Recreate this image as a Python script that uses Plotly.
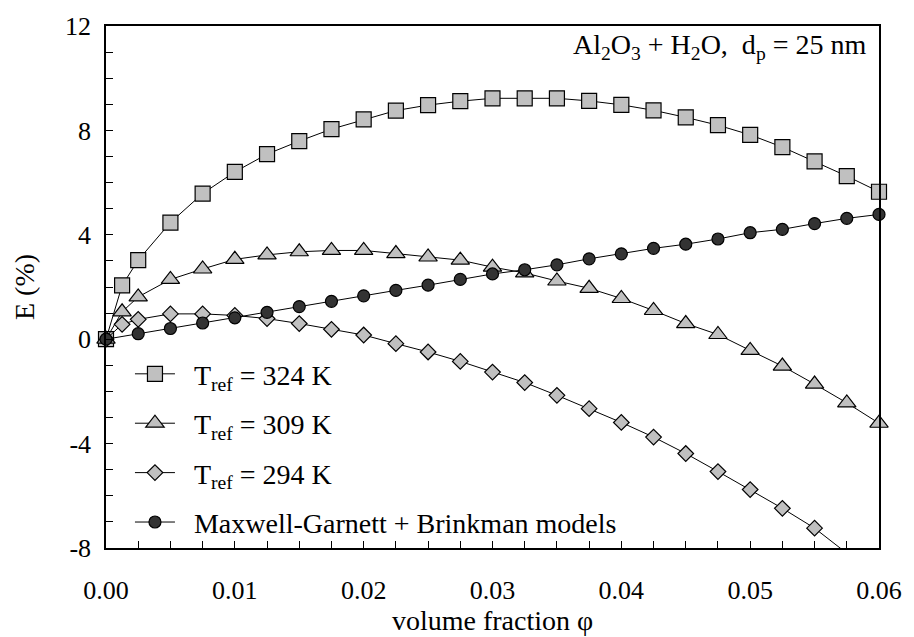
import plotly.graph_objects as go

# volume fraction values
phi_exp = [0, 0.00125, 0.0025, 0.005, 0.0075, 0.01, 0.0125, 0.015, 0.0175, 0.02,
           0.0225, 0.025, 0.0275, 0.03, 0.0325, 0.035, 0.0375, 0.04, 0.0425, 0.045,
           0.0475, 0.05, 0.0525, 0.055, 0.0575, 0.06]
phi_mg = [0, 0.0025, 0.005, 0.0075, 0.01, 0.0125, 0.015, 0.0175, 0.02,
          0.0225, 0.025, 0.0275, 0.03, 0.0325, 0.035, 0.0375, 0.04, 0.0425, 0.045,
          0.0475, 0.05, 0.0525, 0.055, 0.0575, 0.06]

E_324 = [0, 2.06, 3.03, 4.47, 5.58, 6.41, 7.09, 7.59, 8.05, 8.42,
         8.76, 8.97, 9.12, 9.23, 9.23, 9.23, 9.13, 8.98, 8.77, 8.50,
         8.20, 7.83, 7.36, 6.81, 6.25, 5.65]
E_309 = [0, 1.05, 1.62, 2.29, 2.69, 3.06, 3.23, 3.35, 3.40, 3.40,
         3.28, 3.15, 3.03, 2.76, 2.54, 2.23, 1.95, 1.56, 1.10, 0.60,
         0.18, -0.43, -1.03, -1.72, -2.44, -3.22]
E_294 = [0, 0.57, 0.76, 0.97, 0.97, 0.91, 0.79, 0.60, 0.38, 0.16,
         -0.17, -0.49, -0.85, -1.26, -1.66, -2.15, -2.66, -3.19, -3.75, -4.38,
         -5.07, -5.76, -6.48, -7.24, -8.2, -9.0]
E_mg = [0, 0.21, 0.41, 0.62, 0.82, 1.03, 1.25, 1.45, 1.66,
        1.87, 2.07, 2.29, 2.50, 2.66, 2.85, 3.08, 3.27, 3.48, 3.64,
        3.84, 4.08, 4.21, 4.43, 4.63, 4.78]

names = ["T<sub>ref</sub> = 324 K", "T<sub>ref</sub> = 309 K",
         "T<sub>ref</sub> = 294 K", "Maxwell-Garnett + Brinkman models"]

x_ticks = [0, 0.01, 0.02, 0.03, 0.04, 0.05, 0.06]
x_ticktext = ["0.00", "0.01", "0.02", "0.03", "0.04", "0.05", "0.06"]
y_ticks = [-8, -4, 0, 4, 8, 12]
y_ticktext = ["-8", "-4", "0", "4", "8", "12"]

FONT = "Liberation Serif"
FS_TICK = 26
FS_TEXT = 28
GRAY = "#c0c0c0"
DARK = "#333333"

fig = go.Figure()
specs = [
    (phi_exp, E_324, names[0], "square", 15, GRAY, False),
    (phi_exp, E_309, names[1], "triangle-up", 16, GRAY, False),
    (phi_exp, E_294, names[2], "diamond", 12, GRAY, True),
    (phi_mg, E_mg, names[3], "circle", 12, DARK, False),
]
for i, (xs, ys, nm, sym, sz, col, clip) in enumerate(specs):
    fig.add_trace(go.Scatter(
        x=xs, y=ys, name="\u2002" + nm, mode="lines+markers",
        line=dict(color="black", width=1),
        marker=dict(symbol=sym, size=sz, color=col,
                    line=dict(color="black", width=1.2)),
        cliponaxis=clip, legendgroup=f"g{i}",
    ))

fig.add_annotation(
    text="Al<sub>2</sub>O<sub>3</sub> + H<sub>2</sub>O,  d<sub>p</sub> = 25 nm",
    xref="paper", yref="paper", x=0.986, y=0.998, xanchor="right", yanchor="top",
    showarrow=False, font=dict(family=FONT, size=FS_TEXT, color="black"),
)

axis_common = dict(
    showgrid=False, zeroline=False, showline=True, linecolor="black", linewidth=1.5,
    mirror=True, ticks="inside", ticklen=7, tickwidth=1.2, tickcolor="black",
    tickfont=dict(family=FONT, size=FS_TICK, color="black"),
)
fig.update_xaxes(
    range=[0, 0.06], tickvals=x_ticks, ticktext=x_ticktext, ticklabelstandoff=18,
    minor=dict(dtick=0.0025, tick0=0, ticks="inside", ticklen=7, tickwidth=1.2, tickcolor="black"),
    title=dict(text="volume fraction φ", font=dict(family=FONT, size=FS_TEXT, color="black"), standoff=0),
    **axis_common,
)
fig.update_yaxes(
    range=[-8, 12], tickvals=y_ticks, ticktext=y_ticktext, ticklabelstandoff=8,
    minor=dict(dtick=1, tick0=0, ticks="inside", ticklen=7, tickwidth=1.2, tickcolor="black"),
    title=dict(text="E (%)", font=dict(family=FONT, size=FS_TEXT, color="black"), standoff=22),
    **axis_common,
)

fig.update_layout(
    width=914, height=637,
    margin=dict(l=106, r=29, t=20, b=85),
    paper_bgcolor="white", plot_bgcolor="white",
    font=dict(family=FONT, size=FS_TEXT, color="black"),
    showlegend=True,
    legend=dict(x=0.031, y=0.381, xanchor="left", yanchor="top", itemwidth=40,
                bgcolor="rgba(0,0,0,0)", traceorder="grouped", tracegroupgap=10,
                font=dict(family=FONT, size=FS_TEXT, color="black")),
)

fig.write_html("out.html")
